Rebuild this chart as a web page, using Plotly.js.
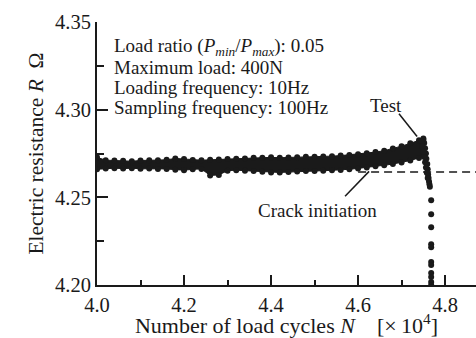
<!DOCTYPE html>
<html>
<head>
<meta charset="utf-8">
<script src="https://cdn.plot.ly/plotly-3.0.1.min.js"></script>
<style>html,body{margin:0;padding:0;background:#fff;}#chart{width:476px;height:338px;}</style>
</head>
<body>
<div id="chart"></div>
<script>
// Load cycles N (x10^4) along the stable band
const cycles = [4.00,4.02,4.04,4.06,4.08,4.10,4.12,4.14,4.16,4.18,4.20,4.22,4.24,4.26,4.28,4.30,4.32,4.34,4.36,4.38,4.40,4.42,4.44,4.46,4.48,4.50,4.52,4.54,4.56,4.58,4.60,4.62,4.64,4.66,4.68,4.70,4.72,4.74,4.75];
// Upper and lower edge of the measured resistance scatter (Ohm)
const resUpper = [4.2728,4.2712,4.2710,4.2708,4.2706,4.2710,4.2712,4.2711,4.2714,4.2722,4.2718,4.2713,4.2712,4.2714,4.2716,4.2718,4.2720,4.2722,4.2726,4.2726,4.2728,4.2726,4.2727,4.2729,4.2731,4.2731,4.2733,4.2735,4.2738,4.2742,4.2746,4.2752,4.2758,4.2766,4.2778,4.2792,4.2808,4.2825,4.2828];
const resLower = [4.2660,4.2664,4.2666,4.2664,4.2666,4.2663,4.2664,4.2662,4.2662,4.2658,4.2655,4.2660,4.2662,4.2625,4.2628,4.2652,4.2655,4.2652,4.2650,4.2646,4.2642,4.2642,4.2644,4.2647,4.2650,4.2650,4.2652,4.2654,4.2656,4.2660,4.2665,4.2670,4.2677,4.2683,4.2690,4.2698,4.2710,4.2725,4.2740];
// Final drop at fracture
const dropCycles = [4.750,4.752,4.754,4.756,4.757,4.759,4.760,4.761,4.762,4.763,4.764,4.765,4.746,4.748,4.750,4.752,4.754,4.756,4.758,4.760,4.768,4.768,4.768,4.768,4.768,4.768,4.768,4.768,4.768,4.768,4.768];
const dropRes = [4.2835,4.2810,4.2780,4.2750,4.2720,4.2690,4.2660,4.2630,4.2610,4.2590,4.2575,4.2560,4.2820,4.2790,4.2760,4.2730,4.2700,4.2670,4.2640,4.2610,4.2483,4.2403,4.2330,4.2233,4.2216,4.2131,4.2114,4.2068,4.2045,4.2017,4.2000];
// Reference line (crack initiation level)
const crackLevel = 4.2644;
const xTicks = [4.0,4.2,4.4,4.6,4.8];
const xTickText = ['4.0','4.2','4.4','4.6','4.8'];
const yTicks = [4.20,4.25,4.30,4.35];
const yTickText = ['4.20','4.25','4.30','4.35'];

const serif = 'Liberation Serif, Times New Roman, serif';
const ink = '#1a1a1a';

const traces = [
  {x: cycles, y: resLower, type: 'scatter', mode: 'lines+markers',
   line: {color: ink, width: 1}, marker: {color: ink, size: 6}, hoverinfo: 'skip', showlegend: false},
  {x: cycles, y: resUpper, type: 'scatter', mode: 'lines+markers', fill: 'tonexty', fillcolor: ink,
   line: {color: ink, width: 1}, marker: {color: ink, size: 6}, hoverinfo: 'skip', showlegend: false},
  {x: dropCycles, y: dropRes, type: 'scatter', mode: 'markers',
   marker: {color: ink, size: 6}, hoverinfo: 'skip', showlegend: false}
];

const axisCommon = {
  showgrid: false, zeroline: false, showline: true, linecolor: ink, linewidth: 2,
  ticks: 'inside', tickcolor: ink, tickwidth: 2, ticklen: 10,
  tickfont: {family: serif, size: 20.5, color: ink}
};

const layout = {
  width: 476, height: 338,
  margin: {l: 97, r: 0, t: 22, b: 53},
  paper_bgcolor: '#fff', plot_bgcolor: '#fff',
  font: {family: serif, color: ink},
  xaxis: Object.assign({}, axisCommon, {
    range: [4.0, 4.871], tickvals: xTicks, ticktext: xTickText,
    minor: {dtick: 0.1, tick0: 4.0, ticks: 'inside', ticklen: 5, tickwidth: 2, tickcolor: ink},
    title: {text: 'Number of load cycles <i>N</i>\u00a0\u00a0\u00a0\u00a0[\u00d7\u200910<sup>4</sup>]',
            font: {family: serif, size: 22, color: ink}, standoff: 9}
  }),
  xaxis2: {
    overlaying: 'x', matches: 'x', side: 'top', anchor: 'y',
    range: [4.0, 4.871], tickvals: xTicks, showticklabels: false,
    showgrid: false, zeroline: false, showline: true, linecolor: ink, linewidth: 2,
    ticks: 'inside', tickcolor: ink, tickwidth: 2, ticklen: 10,
    minor: {dtick: 0.1, tick0: 4.0, ticks: 'inside', ticklen: 5, tickwidth: 2, tickcolor: ink}
  },
  yaxis: Object.assign({}, axisCommon, {
    range: [4.20, 4.35], tickvals: yTicks, ticktext: yTickText, ticklen: 11,
    minor: {dtick: 0.025, tick0: 4.2, ticks: 'inside', ticklen: 7, tickwidth: 2, tickcolor: ink},
    title: {text: 'Electric resistance <i>R</i>\u00a0\u00a0\u03a9', font: {family: serif, size: 21.5, color: ink}, standoff: 6}
  }),
  shapes: [
    {type: 'line', layer: 'below', xref: 'x', yref: 'y', x0: 4.6, x1: 4.871, y0: crackLevel, y1: crackLevel,
     line: {color: ink, width: 1.5, dash: '8px,5px'}},
    {type: 'line', xref: 'x', yref: 'y', x0: 4.694, y0: 4.2977, x1: 4.7356, y1: 4.2847, line: {color: ink, width: 1.5}},
    {type: 'line', xref: 'x', yref: 'y', x0: 4.5701, y0: 4.2506, x1: 4.6253, y1: 4.2648, line: {color: ink, width: 1.5}}
  ],
  annotations: [
    {xref: 'x', yref: 'y', x: 4.035, y: 4.3357, xanchor: 'left', yanchor: 'middle', showarrow: false,
     text: 'Load ratio (<i>P</i><sub><i>min</i></sub>/<i>P</i><sub><i>max</i></sub>): 0.05', font: {family: serif, size: 19, color: ink}},
    {xref: 'x', yref: 'y', x: 4.035, y: 4.3240, xanchor: 'left', yanchor: 'middle', showarrow: false,
     text: 'Maximum load: 400N', font: {family: serif, size: 19, color: ink}},
    {xref: 'x', yref: 'y', x: 4.035, y: 4.3125, xanchor: 'left', yanchor: 'middle', showarrow: false,
     text: 'Loading frequency: 10Hz', font: {family: serif, size: 19, color: ink}},
    {xref: 'x', yref: 'y', x: 4.035, y: 4.3015, xanchor: 'left', yanchor: 'middle', showarrow: false,
     text: 'Sampling frequency: 100Hz', font: {family: serif, size: 19, color: ink}},
    {xref: 'x', yref: 'y', x: 4.664, y: 4.3023, xanchor: 'center', yanchor: 'middle', showarrow: false,
     text: 'Test', font: {family: serif, size: 19, color: ink}},
    {xref: 'x', yref: 'y', x: 4.506, y: 4.2426, xanchor: 'center', yanchor: 'middle', showarrow: false,
     text: 'Crack initiation', font: {family: serif, size: 19, color: ink}}
  ]
};

Plotly.newPlot('chart', traces, layout, {staticPlot: true, displayModeBar: false});
</script>
</body>
</html>
